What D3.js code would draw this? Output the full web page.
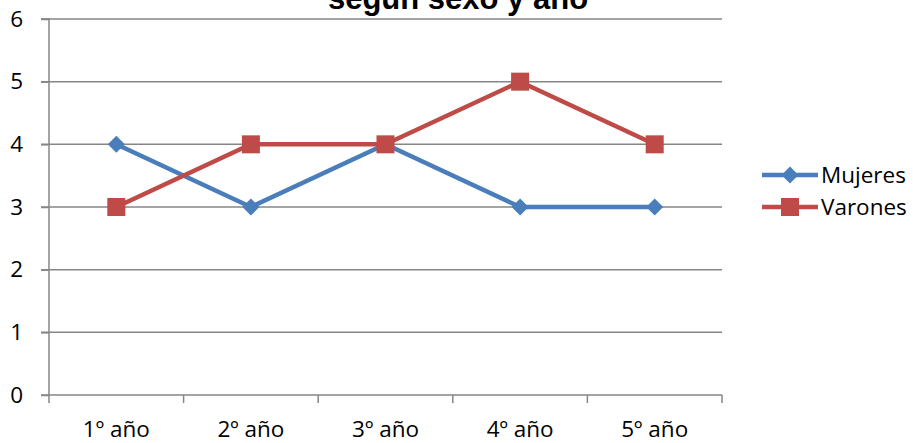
<!DOCTYPE html>
<html><head><meta charset="utf-8">
<script src="https://cdn.jsdelivr.net/npm/d3@7"></script>
<style>body{margin:0;background:#fff;}svg{display:block;}</style>
</head><body>
<svg id="c" width="915" height="443"></svg>
<script>
const categories = ["1º año","2º año","3º año","4º año","5º año"];
const mujeres = [4,3,4,3,3];
const varones = [3,4,4,5,4];
const yTicks = [0,1,2,3,4,5,6];
const seriesNames = ["Mujeres","Varones"];
const title = "según sexo y año";

const svg = d3.select("#c");
const m = {l:49, r:722, t:19, b:395};
const x = d3.scaleBand().domain(categories).range([m.l, m.r]);
const y = d3.scaleLinear().domain([0,6]).range([m.b, m.t]);
const font = "'Open Sans', Calibri, sans-serif";
const fs = 22.5;
const grid = "#868686";

// gridlines
svg.append("g").selectAll("line").data(yTicks.filter(d=>d>0)).join("line")
  .attr("x1", m.l-8).attr("x2", m.r).attr("y1", d=>y(d)).attr("y2", d=>y(d))
  .attr("stroke", grid).attr("stroke-width", 1.5);

// y axis
const ya = svg.append("g").attr("transform", `translate(${m.l},0)`)
  .call(d3.axisLeft(y).tickValues(yTicks).tickSize(8).tickPadding(18).tickFormat(d3.format("d")));
ya.select(".domain").attr("stroke", grid).attr("stroke-width", 1.5).attr("d", `M-8,${m.t}H0V${m.b}`);
ya.selectAll(".tick line").attr("stroke", grid).attr("stroke-width", 1.5);
ya.selectAll("text").attr("font-family", font).attr("font-size", fs).attr("fill", "#000");

// x axis
const xa = svg.append("g").attr("transform", `translate(0,${m.b})`)
  .call(d3.axisBottom(x).tickSize(0).tickPadding(26));
xa.select(".domain").attr("stroke", grid).attr("stroke-width", 1.5).attr("d", `M${m.l-8},0H${m.r}`);
xa.selectAll("text").attr("font-family", font).attr("font-size", fs).attr("fill", "#000");
const bounds = categories.map(c=>x(c)).concat([m.r]);
svg.append("g").selectAll("line").data(bounds).join("line")
  .attr("x1", d=>d).attr("x2", d=>d).attr("y1", m.b).attr("y2", m.b+8)
  .attr("stroke", grid).attr("stroke-width", 1.5);

const cx = c => x(c) + x.bandwidth()/2;
const line = d3.line().x((d,i)=>cx(categories[i])).y(d=>y(d));
const colors = ["#4A7EBB","#BE4B48"];

function diamond(g, px, py, s, col){
  g.append("path").attr("d", `M${px},${py-s}L${px+s},${py}L${px},${py+s}L${px-s},${py}Z`).attr("fill", col);
}
function square(g, px, py, s, col){
  g.append("rect").attr("x", px-s).attr("y", py-s).attr("width", 2*s).attr("height", 2*s).attr("fill", col);
}

// series
[mujeres, varones].forEach((vals, si) => {
  const g = svg.append("g");
  g.append("path").datum(vals).attr("d", line).attr("fill","none")
    .attr("stroke", colors[si]).attr("stroke-width", 4.5).attr("stroke-linejoin","round");
  vals.forEach((v,i)=>{
    if (si===0) diamond(g, cx(categories[i]), y(v), 8.5, colors[si]);
    else square(g, cx(categories[i]), y(v), 9, colors[si]);
  });
});

// legend
const legY = [175, 207];
seriesNames.forEach((n,i)=>{
  const g = svg.append("g");
  g.append("line").attr("x1",762).attr("x2",818).attr("y1",legY[i]).attr("y2",legY[i])
    .attr("stroke",colors[i]).attr("stroke-width",4.5);
  if (i===0) diamond(g, 790, legY[i], 8.5, colors[i]); else square(g, 790, legY[i], 9, colors[i]);
  g.append("text").attr("x",821).attr("y",legY[i]).attr("dy","0.35em")
    .attr("font-family",font).attr("font-size",fs).attr("fill","#000").text(n);
});

// title (clipped at top, as in the reference)
svg.append("text").attr("x", 458).attr("y", 9).attr("text-anchor","middle")
  .attr("font-family","'Liberation Sans', Arial, sans-serif").attr("font-weight","bold")
  .attr("font-size",31).attr("fill","#000").text(title);
</script>
</body></html>
